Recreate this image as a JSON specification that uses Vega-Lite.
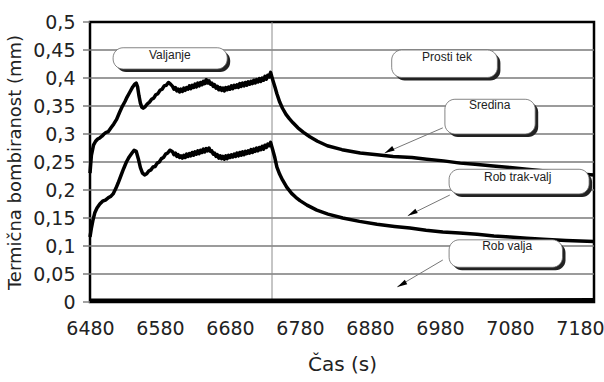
{
  "$schema": "https://vega.github.io/schema/vega-lite/v6.json",
  "width": 504,
  "height": 280,
  "autosize": {"type": "none"},
  "padding": {"left": 90, "top": 22, "right": 10, "bottom": 80},
  "background": "white",
  "config": {
    "view": {"stroke": "black", "strokeWidth": 2.5},
    "axis": {
      "labelFont": "DejaVu Sans",
      "labelFontSize": 19,
      "labelColor": "#222",
      "titleFont": "DejaVu Sans",
      "titleFontWeight": "normal",
      "titleColor": "#222",
      "domain": false
    }
  },
  "datasets": {
    "series": [
      {"s": "Sredina", "t": 6480, "v": 0.230}, {"s": "Sredina", "t": 6482, "v": 0.262}, {"s": "Sredina", "t": 6485, "v": 0.280}, {"s": "Sredina", "t": 6488, "v": 0.287}, {"s": "Sredina", "t": 6491, "v": 0.291}, {"s": "Sredina", "t": 6494, "v": 0.293}, {"s": "Sredina", "t": 6497, "v": 0.296}, {"s": "Sredina", "t": 6500, "v": 0.300}, {"s": "Sredina", "t": 6503, "v": 0.303}, {"s": "Sredina", "t": 6506, "v": 0.304}, {"s": "Sredina", "t": 6510, "v": 0.311}, {"s": "Sredina", "t": 6514, "v": 0.318}, {"s": "Sredina", "t": 6518, "v": 0.326}, {"s": "Sredina", "t": 6522, "v": 0.338}, {"s": "Sredina", "t": 6526, "v": 0.349}, {"s": "Sredina", "t": 6530, "v": 0.358}, {"s": "Sredina", "t": 6533, "v": 0.366}, {"s": "Sredina", "t": 6537, "v": 0.375}, {"s": "Sredina", "t": 6541, "v": 0.384}, {"s": "Sredina", "t": 6544, "v": 0.389}, {"s": "Sredina", "t": 6546, "v": 0.391}, {"s": "Sredina", "t": 6548, "v": 0.384}, {"s": "Sredina", "t": 6550, "v": 0.368}, {"s": "Sredina", "t": 6552, "v": 0.355}, {"s": "Sredina", "t": 6554, "v": 0.348}, {"s": "Sredina", "t": 6556, "v": 0.346}, {"s": "Sredina", "t": 6559, "v": 0.349}, {"s": "Sredina", "t": 6562, "v": 0.354}, {"s": "Sredina", "t": 6565, "v": 0.357}, {"s": "Sredina", "t": 6568, "v": 0.362}, {"s": "Sredina", "t": 6571, "v": 0.364}, {"s": "Sredina", "t": 6574, "v": 0.370}, {"s": "Sredina", "t": 6577, "v": 0.372}, {"s": "Sredina", "t": 6580, "v": 0.378}, {"s": "Sredina", "t": 6583, "v": 0.380}, {"s": "Sredina", "t": 6586, "v": 0.386}, {"s": "Sredina", "t": 6589, "v": 0.387}, {"s": "Sredina", "t": 6592, "v": 0.392}, {"s": "Sredina", "t": 6595, "v": 0.389},
      {"s": "Sredina", "t": 6598, "v": 0.385}, {"s": "Sredina", "t": 6600, "v": 0.380}, {"s": "Sredina", "t": 6602, "v": 0.383}, {"s": "Sredina", "t": 6604, "v": 0.377}, {"s": "Sredina", "t": 6606, "v": 0.380}, {"s": "Sredina", "t": 6608, "v": 0.375}, {"s": "Sredina", "t": 6610, "v": 0.380}, {"s": "Sredina", "t": 6612, "v": 0.376}, {"s": "Sredina", "t": 6614, "v": 0.382}, {"s": "Sredina", "t": 6616, "v": 0.378}, {"s": "Sredina", "t": 6618, "v": 0.383}, {"s": "Sredina", "t": 6620, "v": 0.380}, {"s": "Sredina", "t": 6622, "v": 0.386}, {"s": "Sredina", "t": 6624, "v": 0.381}, {"s": "Sredina", "t": 6626, "v": 0.387}, {"s": "Sredina", "t": 6628, "v": 0.383}, {"s": "Sredina", "t": 6630, "v": 0.389}, {"s": "Sredina", "t": 6632, "v": 0.384}, {"s": "Sredina", "t": 6634, "v": 0.391}, {"s": "Sredina", "t": 6636, "v": 0.386}, {"s": "Sredina", "t": 6638, "v": 0.392}, {"s": "Sredina", "t": 6640, "v": 0.388}, {"s": "Sredina", "t": 6642, "v": 0.394}, {"s": "Sredina", "t": 6644, "v": 0.390}, {"s": "Sredina", "t": 6646, "v": 0.397}, {"s": "Sredina", "t": 6648, "v": 0.391}, {"s": "Sredina", "t": 6650, "v": 0.395}, {"s": "Sredina", "t": 6652, "v": 0.389}, {"s": "Sredina", "t": 6654, "v": 0.391}, {"s": "Sredina", "t": 6656, "v": 0.385}, {"s": "Sredina", "t": 6658, "v": 0.388}, {"s": "Sredina", "t": 6660, "v": 0.382}, {"s": "Sredina", "t": 6662, "v": 0.385}, {"s": "Sredina", "t": 6664, "v": 0.379}, {"s": "Sredina", "t": 6666, "v": 0.383}, {"s": "Sredina", "t": 6668, "v": 0.378}, {"s": "Sredina", "t": 6670, "v": 0.382}, {"s": "Sredina", "t": 6672, "v": 0.377}, {"s": "Sredina", "t": 6674, "v": 0.383}, {"s": "Sredina", "t": 6676, "v": 0.379}, {"s": "Sredina", "t": 6678, "v": 0.384}, {"s": "Sredina", "t": 6680, "v": 0.380}, {"s": "Sredina", "t": 6682, "v": 0.386}, {"s": "Sredina", "t": 6684, "v": 0.381}, {"s": "Sredina", "t": 6686, "v": 0.387}, {"s": "Sredina", "t": 6688, "v": 0.383}, {"s": "Sredina", "t": 6690, "v": 0.388}, {"s": "Sredina", "t": 6692, "v": 0.383}, {"s": "Sredina", "t": 6694, "v": 0.390}, {"s": "Sredina", "t": 6696, "v": 0.385}, {"s": "Sredina", "t": 6698, "v": 0.391}, {"s": "Sredina", "t": 6700, "v": 0.386}, {"s": "Sredina", "t": 6702, "v": 0.392}, {"s": "Sredina", "t": 6704, "v": 0.387}, {"s": "Sredina", "t": 6706, "v": 0.393}, {"s": "Sredina", "t": 6708, "v": 0.389}, {"s": "Sredina", "t": 6710, "v": 0.394}, {"s": "Sredina", "t": 6712, "v": 0.390}, {"s": "Sredina", "t": 6714, "v": 0.396}, {"s": "Sredina", "t": 6716, "v": 0.391}, {"s": "Sredina", "t": 6718, "v": 0.397}, {"s": "Sredina", "t": 6720, "v": 0.393}, {"s": "Sredina", "t": 6722, "v": 0.399}, {"s": "Sredina", "t": 6724, "v": 0.394}, {"s": "Sredina", "t": 6726, "v": 0.400}, {"s": "Sredina", "t": 6728, "v": 0.396}, {"s": "Sredina", "t": 6730, "v": 0.403}, {"s": "Sredina", "t": 6732, "v": 0.398}, {"s": "Sredina", "t": 6734, "v": 0.405}, {"s": "Sredina", "t": 6736, "v": 0.402}, {"s": "Sredina", "t": 6738, "v": 0.410},
      {"s": "Sredina", "t": 6741, "v": 0.397}, {"s": "Sredina", "t": 6744, "v": 0.385}, {"s": "Sredina", "t": 6747, "v": 0.372}, {"s": "Sredina", "t": 6751, "v": 0.357}, {"s": "Sredina", "t": 6755, "v": 0.346}, {"s": "Sredina", "t": 6760, "v": 0.335}, {"s": "Sredina", "t": 6765, "v": 0.327}, {"s": "Sredina", "t": 6770, "v": 0.320}, {"s": "Sredina", "t": 6777, "v": 0.311}, {"s": "Sredina", "t": 6785, "v": 0.303}, {"s": "Sredina", "t": 6794, "v": 0.295}, {"s": "Sredina", "t": 6805, "v": 0.287}, {"s": "Sredina", "t": 6819, "v": 0.279}, {"s": "Sredina", "t": 6840, "v": 0.272}, {"s": "Sredina", "t": 6866, "v": 0.266}, {"s": "Sredina", "t": 6890, "v": 0.263}, {"s": "Sredina", "t": 6913, "v": 0.260}, {"s": "Sredina", "t": 6940, "v": 0.258}, {"s": "Sredina", "t": 6961, "v": 0.255}, {"s": "Sredina", "t": 6985, "v": 0.252}, {"s": "Sredina", "t": 7009, "v": 0.248}, {"s": "Sredina", "t": 7030, "v": 0.246}, {"s": "Sredina", "t": 7056, "v": 0.243}, {"s": "Sredina", "t": 7080, "v": 0.240}, {"s": "Sredina", "t": 7104, "v": 0.237}, {"s": "Sredina", "t": 7130, "v": 0.234}, {"s": "Sredina", "t": 7151, "v": 0.231}, {"s": "Sredina", "t": 7175, "v": 0.229}, {"s": "Sredina", "t": 7200, "v": 0.227},
      {"s": "Rob trak-valj", "t": 6480, "v": 0.116}, {"s": "Rob trak-valj", "t": 6482, "v": 0.132}, {"s": "Rob trak-valj", "t": 6484, "v": 0.145}, {"s": "Rob trak-valj", "t": 6487, "v": 0.160}, {"s": "Rob trak-valj", "t": 6490, "v": 0.168}, {"s": "Rob trak-valj", "t": 6494, "v": 0.175}, {"s": "Rob trak-valj", "t": 6498, "v": 0.180}, {"s": "Rob trak-valj", "t": 6502, "v": 0.182}, {"s": "Rob trak-valj", "t": 6506, "v": 0.186}, {"s": "Rob trak-valj", "t": 6510, "v": 0.189}, {"s": "Rob trak-valj", "t": 6513, "v": 0.193}, {"s": "Rob trak-valj", "t": 6517, "v": 0.203}, {"s": "Rob trak-valj", "t": 6520, "v": 0.212}, {"s": "Rob trak-valj", "t": 6524, "v": 0.225}, {"s": "Rob trak-valj", "t": 6528, "v": 0.238}, {"s": "Rob trak-valj", "t": 6532, "v": 0.250}, {"s": "Rob trak-valj", "t": 6536, "v": 0.259}, {"s": "Rob trak-valj", "t": 6540, "v": 0.266}, {"s": "Rob trak-valj", "t": 6543, "v": 0.271}, {"s": "Rob trak-valj", "t": 6546, "v": 0.269}, {"s": "Rob trak-valj", "t": 6549, "v": 0.256}, {"s": "Rob trak-valj", "t": 6552, "v": 0.240}, {"s": "Rob trak-valj", "t": 6555, "v": 0.230}, {"s": "Rob trak-valj", "t": 6558, "v": 0.227}, {"s": "Rob trak-valj", "t": 6561, "v": 0.229}, {"s": "Rob trak-valj", "t": 6564, "v": 0.234}, {"s": "Rob trak-valj", "t": 6567, "v": 0.236}, {"s": "Rob trak-valj", "t": 6570, "v": 0.241}, {"s": "Rob trak-valj", "t": 6573, "v": 0.242}, {"s": "Rob trak-valj", "t": 6576, "v": 0.248}, {"s": "Rob trak-valj", "t": 6579, "v": 0.250}, {"s": "Rob trak-valj", "t": 6582, "v": 0.256}, {"s": "Rob trak-valj", "t": 6585, "v": 0.258}, {"s": "Rob trak-valj", "t": 6588, "v": 0.264}, {"s": "Rob trak-valj", "t": 6591, "v": 0.266}, {"s": "Rob trak-valj", "t": 6594, "v": 0.271}, {"s": "Rob trak-valj", "t": 6596, "v": 0.270},
      {"s": "Rob trak-valj", "t": 6598, "v": 0.268}, {"s": "Rob trak-valj", "t": 6600, "v": 0.263}, {"s": "Rob trak-valj", "t": 6602, "v": 0.266}, {"s": "Rob trak-valj", "t": 6604, "v": 0.260}, {"s": "Rob trak-valj", "t": 6606, "v": 0.263}, {"s": "Rob trak-valj", "t": 6608, "v": 0.258}, {"s": "Rob trak-valj", "t": 6610, "v": 0.261}, {"s": "Rob trak-valj", "t": 6612, "v": 0.257}, {"s": "Rob trak-valj", "t": 6614, "v": 0.262}, {"s": "Rob trak-valj", "t": 6616, "v": 0.258}, {"s": "Rob trak-valj", "t": 6618, "v": 0.264}, {"s": "Rob trak-valj", "t": 6620, "v": 0.260}, {"s": "Rob trak-valj", "t": 6622, "v": 0.265}, {"s": "Rob trak-valj", "t": 6624, "v": 0.261}, {"s": "Rob trak-valj", "t": 6626, "v": 0.267}, {"s": "Rob trak-valj", "t": 6628, "v": 0.262}, {"s": "Rob trak-valj", "t": 6630, "v": 0.268}, {"s": "Rob trak-valj", "t": 6632, "v": 0.264}, {"s": "Rob trak-valj", "t": 6634, "v": 0.270}, {"s": "Rob trak-valj", "t": 6636, "v": 0.265}, {"s": "Rob trak-valj", "t": 6638, "v": 0.271}, {"s": "Rob trak-valj", "t": 6640, "v": 0.267}, {"s": "Rob trak-valj", "t": 6642, "v": 0.273}, {"s": "Rob trak-valj", "t": 6644, "v": 0.268}, {"s": "Rob trak-valj", "t": 6646, "v": 0.274}, {"s": "Rob trak-valj", "t": 6648, "v": 0.270}, {"s": "Rob trak-valj", "t": 6650, "v": 0.275}, {"s": "Rob trak-valj", "t": 6652, "v": 0.269}, {"s": "Rob trak-valj", "t": 6654, "v": 0.270}, {"s": "Rob trak-valj", "t": 6656, "v": 0.264}, {"s": "Rob trak-valj", "t": 6658, "v": 0.266}, {"s": "Rob trak-valj", "t": 6660, "v": 0.260}, {"s": "Rob trak-valj", "t": 6662, "v": 0.263}, {"s": "Rob trak-valj", "t": 6664, "v": 0.257}, {"s": "Rob trak-valj", "t": 6666, "v": 0.261}, {"s": "Rob trak-valj", "t": 6668, "v": 0.256}, {"s": "Rob trak-valj", "t": 6670, "v": 0.260}, {"s": "Rob trak-valj", "t": 6672, "v": 0.255}, {"s": "Rob trak-valj", "t": 6674, "v": 0.261}, {"s": "Rob trak-valj", "t": 6676, "v": 0.256}, {"s": "Rob trak-valj", "t": 6678, "v": 0.262}, {"s": "Rob trak-valj", "t": 6680, "v": 0.258}, {"s": "Rob trak-valj", "t": 6682, "v": 0.263}, {"s": "Rob trak-valj", "t": 6684, "v": 0.259}, {"s": "Rob trak-valj", "t": 6686, "v": 0.264}, {"s": "Rob trak-valj", "t": 6688, "v": 0.260}, {"s": "Rob trak-valj", "t": 6690, "v": 0.266}, {"s": "Rob trak-valj", "t": 6692, "v": 0.261}, {"s": "Rob trak-valj", "t": 6694, "v": 0.267}, {"s": "Rob trak-valj", "t": 6696, "v": 0.262}, {"s": "Rob trak-valj", "t": 6698, "v": 0.268}, {"s": "Rob trak-valj", "t": 6700, "v": 0.263}, {"s": "Rob trak-valj", "t": 6702, "v": 0.269}, {"s": "Rob trak-valj", "t": 6704, "v": 0.265}, {"s": "Rob trak-valj", "t": 6706, "v": 0.270}, {"s": "Rob trak-valj", "t": 6708, "v": 0.266}, {"s": "Rob trak-valj", "t": 6710, "v": 0.272}, {"s": "Rob trak-valj", "t": 6712, "v": 0.267}, {"s": "Rob trak-valj", "t": 6714, "v": 0.273}, {"s": "Rob trak-valj", "t": 6716, "v": 0.269}, {"s": "Rob trak-valj", "t": 6718, "v": 0.275}, {"s": "Rob trak-valj", "t": 6720, "v": 0.270}, {"s": "Rob trak-valj", "t": 6722, "v": 0.276}, {"s": "Rob trak-valj", "t": 6724, "v": 0.272}, {"s": "Rob trak-valj", "t": 6726, "v": 0.278}, {"s": "Rob trak-valj", "t": 6728, "v": 0.273}, {"s": "Rob trak-valj", "t": 6730, "v": 0.280}, {"s": "Rob trak-valj", "t": 6732, "v": 0.276}, {"s": "Rob trak-valj", "t": 6734, "v": 0.282}, {"s": "Rob trak-valj", "t": 6736, "v": 0.279}, {"s": "Rob trak-valj", "t": 6738, "v": 0.285},
      {"s": "Rob trak-valj", "t": 6741, "v": 0.272}, {"s": "Rob trak-valj", "t": 6744, "v": 0.258}, {"s": "Rob trak-valj", "t": 6747, "v": 0.241}, {"s": "Rob trak-valj", "t": 6751, "v": 0.228}, {"s": "Rob trak-valj", "t": 6755, "v": 0.218}, {"s": "Rob trak-valj", "t": 6761, "v": 0.205}, {"s": "Rob trak-valj", "t": 6768, "v": 0.194}, {"s": "Rob trak-valj", "t": 6774, "v": 0.187}, {"s": "Rob trak-valj", "t": 6780, "v": 0.181}, {"s": "Rob trak-valj", "t": 6790, "v": 0.173}, {"s": "Rob trak-valj", "t": 6804, "v": 0.164}, {"s": "Rob trak-valj", "t": 6820, "v": 0.157}, {"s": "Rob trak-valj", "t": 6841, "v": 0.150}, {"s": "Rob trak-valj", "t": 6865, "v": 0.144}, {"s": "Rob trak-valj", "t": 6890, "v": 0.139}, {"s": "Rob trak-valj", "t": 6915, "v": 0.135}, {"s": "Rob trak-valj", "t": 6937, "v": 0.132}, {"s": "Rob trak-valj", "t": 6960, "v": 0.128}, {"s": "Rob trak-valj", "t": 6984, "v": 0.125}, {"s": "Rob trak-valj", "t": 7008, "v": 0.123}, {"s": "Rob trak-valj", "t": 7033, "v": 0.121}, {"s": "Rob trak-valj", "t": 7057, "v": 0.118}, {"s": "Rob trak-valj", "t": 7080, "v": 0.116}, {"s": "Rob trak-valj", "t": 7104, "v": 0.114}, {"s": "Rob trak-valj", "t": 7127, "v": 0.112}, {"s": "Rob trak-valj", "t": 7160, "v": 0.110}, {"s": "Rob trak-valj", "t": 7200, "v": 0.108},
      {"s": "Rob valja", "t": 6480, "v": 0.003}, {"s": "Rob valja", "t": 6740, "v": 0.003}, {"s": "Rob valja", "t": 7200, "v": 0.004}
    ],
    "boxes": [
      {"label": "Valjanje", "t": 6513, "t2": 6676, "v": 0.454, "v2": 0.416},
      {"label": "Prosti tek", "t": 6911, "t2": 7062, "v": 0.450, "v2": 0.401},
      {"label": "Sredina", "t": 6987, "t2": 7116, "v": 0.362, "v2": 0.300},
      {"label": "Rob trak-valj", "t": 6993, "t2": 7193, "v": 0.237, "v2": 0.193},
      {"label": "Rob valja", "t": 6993, "t2": 7155, "v": 0.111, "v2": 0.062}
    ],
    "labels": [
      {"label": "Valjanje", "t": 6594, "v": 0.441},
      {"label": "Prosti tek", "t": 6990, "v": 0.437},
      {"label": "Sredina", "t": 7051, "v": 0.351},
      {"label": "Rob trak-valj", "t": 7091, "v": 0.223},
      {"label": "Rob valja", "t": 7076, "v": 0.100}
    ],
    "arrows": [
      {"label": "Sredina", "t2": 6984, "v2": 0.311, "t": 6901, "v": 0.266},
      {"label": "Rob trak-valj", "t2": 6994, "v2": 0.191, "t": 6934, "v": 0.154},
      {"label": "Rob valja", "t2": 6984, "v2": 0.075, "t": 6919, "v": 0.027}
    ],
    "divider": [
      {"t": 6740, "v": 0, "v2": 0.5}
    ],
    "gridlines": [
      {"t": 6470, "t2": 7200, "v": 0.05}, {"t": 6470, "t2": 7200, "v": 0.1}, {"t": 6470, "t2": 7200, "v": 0.15},
      {"t": 6470, "t2": 7200, "v": 0.2}, {"t": 6470, "t2": 7200, "v": 0.25}, {"t": 6470, "t2": 7200, "v": 0.3},
      {"t": 6470, "t2": 7200, "v": 0.35}, {"t": 6470, "t2": 7200, "v": 0.4}, {"t": 6470, "t2": 7200, "v": 0.45},
      {"t": 6470, "t2": 6480, "v": 0}, {"t": 6470, "t2": 6480, "v": 0.5}
    ]
  },
  "encoding": {
    "x": {
      "field": "t", "type": "quantitative",
      "scale": {"domain": [6480, 7200], "nice": false, "zero": false},
      "axis": {
        "values": [6480, 6580, 6680, 6780, 6880, 6980, 7080, 7180],
        "format": "d",
        "grid": false,
        "ticks": false,
        "labelPadding": 17,
        "labelFlush": false,
        "labelOverlap": false,
        "title": "Čas (s)",
        "titleFontSize": 20,
        "titlePadding": 16
      }
    },
    "y": {
      "field": "v", "type": "quantitative",
      "scale": {"domain": [0, 0.5], "nice": false},
      "axis": {
        "values": [0, 0.05, 0.1, 0.15, 0.2, 0.25, 0.3, 0.35, 0.4, 0.45, 0.5],
        "labelExpr": "replace(format(datum.value, '.2~f'), '.', ',')",
        "labelOverlap": false,
        "labelFlush": false,
        "grid": false,
        "ticks": false,
        "labelPadding": 15,
        "title": "Termična bombiranost (mm)",
        "titleFontSize": 18,
        "titlePadding": 8
      }
    }
  },
  "layer": [
    {
      "data": {"name": "gridlines"},
      "mark": {"type": "rule", "color": "#7a7a7a", "strokeWidth": 1.4},
      "encoding": {"x2": {"field": "t2"}}
    },
    {
      "data": {"name": "divider"},
      "mark": {"type": "rule", "color": "#8c8c8c", "strokeWidth": 1},
      "encoding": {"y2": {"field": "v2"}}
    },
    {
      "data": {"name": "series"},
      "mark": {"type": "line", "strokeWidth": 3.5, "color": "black", "strokeJoin": "round"},
      "encoding": {"detail": {"field": "s", "type": "nominal"}}
    },
    {
      "data": {"name": "arrows"},
      "mark": {"type": "rule", "color": "#777", "strokeWidth": 1},
      "encoding": {"x2": {"field": "t2"}, "y2": {"field": "v2"}}
    },
    {
      "data": {"name": "arrows"},
      "mark": {"type": "point", "shape": "M0,0L0.5,2L-0.5,2Z", "size": 100, "filled": true, "color": "black", "opacity": 1, "angle": 241},
      "encoding": {}
    },
    {
      "data": {"name": "boxes"},
      "mark": {"type": "rect", "cornerRadius": 10, "fill": "#222", "xOffset": 3, "x2Offset": 3, "yOffset": 3, "y2Offset": 3},
      "encoding": {"x2": {"field": "t2"}, "y2": {"field": "v2"}}
    },
    {
      "data": {"name": "boxes"},
      "mark": {"type": "rect", "cornerRadius": 10, "fill": "white", "stroke": "#666", "strokeWidth": 0.8},
      "encoding": {"x2": {"field": "t2"}, "y2": {"field": "v2"}}
    },
    {
      "data": {"name": "labels"},
      "mark": {"type": "text", "font": "Liberation Sans", "fontSize": 12, "color": "#222", "align": "center", "baseline": "middle"},
      "encoding": {"text": {"field": "label"}}
    }
  ]
}
